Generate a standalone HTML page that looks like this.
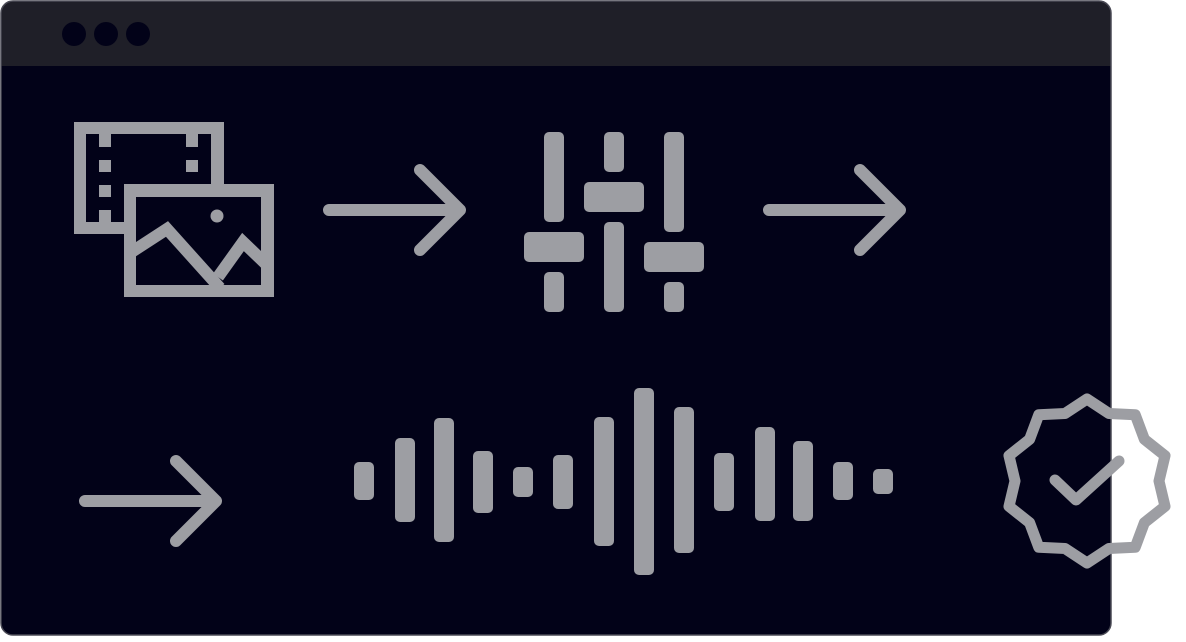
<!DOCTYPE html>
<html><head><meta charset="utf-8"><style>
html,body{margin:0;padding:0;background:#fff;width:1186px;height:642px;overflow:hidden}
svg{display:block}
</style></head><body>
<svg width="1186" height="642" viewBox="0 0 1186 642" xmlns="http://www.w3.org/2000/svg">
<defs><clipPath id="win"><rect x="1" y="1" width="1110" height="634" rx="12"/></clipPath>
<clipPath id="imgin"><rect x="136" y="197" width="125" height="88"/></clipPath></defs>
<g clip-path="url(#win)">
<rect x="0" y="0" width="1112" height="636" fill="#020218"/>
<rect x="0" y="0" width="1112" height="66" fill="#1f1f28"/>
</g>
<rect x="1" y="1" width="1110" height="634" rx="12" fill="none" stroke="#4a4a55" stroke-width="1.5"/>
<circle cx="74" cy="34" r="12" fill="#020218"/>
<circle cx="106" cy="34" r="12" fill="#020218"/>
<circle cx="138" cy="34" r="12" fill="#020218"/>
<g fill="#9d9ea3">
<path fill-rule="evenodd" d="M74 122h150v112H74z M86 134v88h125v-88z"/>
<rect x="99" y="134" width="12" height="13"/><rect x="99" y="160" width="12" height="12"/><rect x="99" y="185" width="12" height="12"/><rect x="99" y="210" width="12" height="12"/>
<rect x="186" y="134" width="12" height="13"/><rect x="186" y="160" width="12" height="12"/>
<rect x="124" y="184" width="150" height="113" fill="#020218"/>
<path fill-rule="evenodd" d="M124 184h150v113H124z M136 197v88h125v-88z"/>
<circle cx="217" cy="216" r="6.5"/>
</g>
<g clip-path="url(#imgin)" stroke="#9d9ea3" stroke-width="12" fill="none">
<polyline points="130,253 167,229 220,288"/>
<polyline points="218,277 243,242 270,268"/>
</g>
<g stroke="#9d9ea3" stroke-width="12" stroke-linecap="round" stroke-linejoin="round" fill="none">
<path d="M329 210H460M420 170L460 210L420 250"/>
<path d="M769 210H900M860 170L900 210L860 250"/>
<path d="M85 501H216M176 461L216 501L176 541"/>
</g>
<g fill="#9d9ea3">
<rect x="544" y="132" width="20" height="90" rx="5"/><rect x="544" y="272" width="20" height="40" rx="5"/><rect x="524" y="232" width="60" height="30" rx="5"/>
<rect x="604" y="132" width="20" height="40" rx="5"/><rect x="604" y="222" width="20" height="90" rx="5"/><rect x="584" y="182" width="60" height="30" rx="5"/>
<rect x="664" y="132" width="20" height="100" rx="5"/><rect x="664" y="282" width="20" height="30" rx="5"/><rect x="644" y="242" width="60" height="30" rx="5"/>
<rect x="354" y="462" width="20" height="38" rx="5"/>
<rect x="395" y="438" width="20" height="84" rx="5"/>
<rect x="434" y="418" width="20" height="124" rx="5"/>
<rect x="473" y="451" width="20" height="62" rx="5"/>
<rect x="513" y="467" width="20" height="30" rx="5"/>
<rect x="553" y="455" width="20" height="54" rx="5"/>
<rect x="594" y="417" width="20" height="129" rx="5"/>
<rect x="634" y="388" width="20" height="187" rx="5"/>
<rect x="674" y="407" width="20" height="146" rx="5"/>
<rect x="714" y="453" width="20" height="58" rx="5"/>
<rect x="755" y="427" width="20" height="94" rx="5"/>
<rect x="793" y="441" width="20" height="80" rx="5"/>
<rect x="833" y="462" width="20" height="38" rx="5"/>
<rect x="873" y="469" width="20" height="25" rx="5"/>
</g>
<g stroke="#9d9ea3" stroke-width="11" stroke-linejoin="round" stroke-linecap="round" fill="none">
<polygon points="1087,399 1109,413.5 1135.2,414.7 1144.4,439.3 1165,455.7 1159,481 1165,506.3 1144.4,522.7 1135.2,547.3 1109,548.5 1087,563 1065,548.5 1038.8,547.3 1029.6,522.7 1009,506.3 1015,481 1009,455.7 1029.6,439.3 1038.8,414.7 1065,413.5"/>
<polyline points="1055,480 1076,500 1119,461"/>
</g>
</svg>
</body></html>
